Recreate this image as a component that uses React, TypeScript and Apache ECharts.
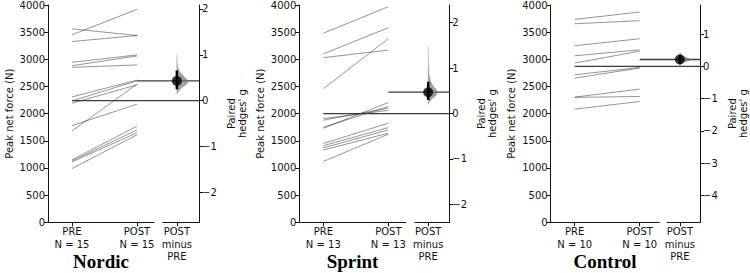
import React, { useEffect, useRef } from "react";
import * as echarts from "echarts";

// ---------- data ----------
const groups = ["Nordic", "Sprint", "Control"];
const groupN = [15, 13, 10];

const preNordic = [3451, 3562, 3327, 2945, 2883, 2852, 2309, 2235, 2192, 1780, 1680, 1150, 1130, 1110, 990];
const postNordic = [3920, 3438, 3438, 3081, 3062, 2896, 2618, 2605, 2531, 2174, 2543, 1770, 1700, 1650, 1610];

const preSprint = [3480, 3100, 3030, 2460, 1910, 1880, 1750, 1730, 1450, 1410, 1370, 1330, 1120];
const postSprint = [3969, 3582, 3170, 3379, 2060, 2101, 2131, 2205, 1825, 1744, 1701, 1640, 1622];

const preControl = [3735, 3655, 3250, 3065, 2931, 2715, 2654, 2304, 2300, 2083];
const postControl = [3871, 3711, 3379, 3175, 3150, 2850, 2840, 2452, 2315, 2223];

// paired Hedges' g and 95% CI
const hedgesG = [0.43, 0.47, 0.215];
const ciLow = [0.25, 0.3, 0.07];
const ciHigh = [0.66, 0.7, 0.36];

// bootstrap distribution outline: [g, half-width]
const violinNordic = [[1.0, 0], [0.85, 0.01], [0.72, 0.04], [0.62, 0.12], [0.52, 0.27], [0.45, 0.38], [0.4, 0.4], [0.34, 0.32], [0.27, 0.16], [0.2, 0.05], [0.14, 0]];
const violinSprint = [[1.47, 0], [1.1, 0.01], [0.85, 0.04], [0.7, 0.1], [0.6, 0.2], [0.52, 0.32], [0.46, 0.36], [0.4, 0.3], [0.33, 0.16], [0.26, 0.05], [0.2, 0]];
const violinControl = [[0.45, 0], [0.36, 0.05], [0.3, 0.2], [0.24, 0.4], [0.21, 0.46], [0.17, 0.35], [0.12, 0.12], [0.06, 0]];

const yTicksLeft = { min: 0, max: 4000, interval: 500 };
const xTickLabels = ["PRE", "POST"];
const effectLabel = "POST\nminus\nPRE";

// ---------- layout ----------
const gridLeft = [48, 299.3, 550.7];
const mainWidth = [106, 106.4, 108.6];
const effLeft = [163, 415, 667.3];
const rightX = [199, 449.3, 701];
const TOP = 5;
const HEIGHT = 217.3;
const PX_PER_UNIT = 65;
const X_MIN = -24 / PX_PER_UNIT;

const FONT = "DejaVu Sans";
const INK = "#111";

const mean = (a: number[]) => a.reduce((s, v) => s + v, 0) / a.length;
const fmtMinus = (v: number) => (v < 0 ? "\u2212" + String(-v) : String(v));

function buildOption() {
  const pres = [preNordic, preSprint, preControl];
  const posts = [postNordic, postSprint, postControl];
  const violins = [violinNordic, violinSprint, violinControl];

  const grid: any[] = [];
  const xAxis: any[] = [];
  const yAxis: any[] = [];
  const series: any[] = [];
  const title: any[] = [];

  groups.forEach((name, i) => {
    const pre = pres[i];
    const post = posts[i];
    const preM = mean(pre);
    const postM = mean(post);
    const k = (postM - preM) / hedgesG[i]; // N per unit of g
    const gMin = (yTicksLeft.min - preM) / k;
    const gMax = (yTicksLeft.max - preM) / k;
    const gTicks: number[] = [];
    for (let t = Math.ceil(gMin); t <= Math.floor(gMax); t++) gTicks.push(t);

    const fullW = rightX[i] - gridLeft[i];
    const mainMax = X_MIN + fullW / PX_PER_UNIT;
    const axMax = X_MIN + mainWidth[i] / PX_PER_UNIT;

    grid.push({ left: gridLeft[i], top: TOP, width: fullW, height: HEIGHT });
    grid.push({ left: gridLeft[i], top: TOP, width: mainWidth[i], height: HEIGHT });
    grid.push({ left: effLeft[i], top: TOP, width: rightX[i] - effLeft[i], height: HEIGHT });

    const gi = 3 * i;
    xAxis.push({ gridIndex: gi, type: "value", min: X_MIN, max: mainMax, show: false });
    yAxis.push({
      gridIndex: gi,
      type: "value",
      min: yTicksLeft.min,
      max: yTicksLeft.max,
      interval: yTicksLeft.interval,
      position: "left",
      name: "Peak net force (N)",
      nameLocation: "middle",
      nameGap: 34,
      nameTextStyle: { fontFamily: FONT, fontSize: 10, color: INK },
      axisLine: { show: true, onZero: false, lineStyle: { color: INK, width: 1 } },
      axisTick: { show: true, length: 4, lineStyle: { color: INK } },
      axisLabel: { fontFamily: FONT, fontSize: 10, color: INK, margin: 3, formatter: (v: number) => String(v) },
      splitLine: { show: false },
    });
    xAxis.push({
      gridIndex: gi + 1,
      type: "value",
      min: X_MIN,
      max: axMax,
      axisLine: { show: true, onZero: false, lineStyle: { color: INK, width: 1 } },
      axisTick: { show: true, length: 4, customValues: [0, 1], lineStyle: { color: INK } },
      axisLabel: {
        customValues: [0, 1],
        formatter: (v: number) => `${xTickLabels[v === 0 ? 0 : 1]}\nN = ${groupN[i]}`,
        fontFamily: FONT,
        fontSize: 10,
        lineHeight: 12.5,
        color: INK,
        margin: 3,
      },
      splitLine: { show: false },
    });
    yAxis.push({ gridIndex: gi + 1, type: "value", min: 0, max: 1, show: false });
    xAxis.push({
      gridIndex: gi + 2,
      type: "value",
      min: -0.5,
      max: 0.8,
      axisLine: { show: true, onZero: false, lineStyle: { color: INK, width: 1 } },
      axisTick: { show: true, length: 4, customValues: [0], lineStyle: { color: INK } },
      axisLabel: {
        customValues: [0],
        formatter: () => effectLabel,
        fontFamily: FONT,
        fontSize: 10,
        lineHeight: 12.5,
        color: INK,
        margin: 3,
      },
      splitLine: { show: false },
    });
    yAxis.push({
      gridIndex: gi + 2,
      type: "value",
      min: gMin,
      max: gMax,
      position: "right",
      name: "Paired\nhedges' g",
      nameLocation: "middle",
      nameRotate: 90,
      nameGap: 27,
      nameTextStyle: { fontFamily: FONT, fontSize: 10, color: INK, lineHeight: 11 },
      axisLine: { show: true, onZero: false, lineStyle: { color: INK, width: 1 } },
      axisTick: { show: true, length: 4, customValues: gTicks, lineStyle: { color: INK } },
      axisLabel: {
        customValues: gTicks,
        formatter: (v: number) => fmtMinus(Math.round(v)),
        fontFamily: FONT,
        fontSize: 10,
        color: INK,
        margin: 3,
      },
      splitLine: { show: false },
    });

    pre.forEach((p, j) => {
      series.push({
        type: "line",
        xAxisIndex: gi,
        yAxisIndex: gi,
        data: [[0, p], [1, post[j]]],
        symbol: "none",
        silent: true,
        lineStyle: { color: "rgba(0,0,0,0.42)", width: 1 },
        z: 2,
      });
    });
    series.push({
      type: "line",
      xAxisIndex: gi,
      yAxisIndex: gi,
      data: [[0, preM], [mainMax, preM]],
      symbol: "none",
      silent: true,
      lineStyle: { color: "#3a3a3a", width: 1.3 },
      z: 3,
    });
    series.push({
      type: "line",
      xAxisIndex: gi,
      yAxisIndex: gi,
      data: [[1, postM], [mainMax, postM]],
      symbol: "none",
      silent: true,
      lineStyle: { color: "#3a3a3a", width: 1.3 },
      z: 3,
    });
    const vio = violins[i];
    series.push({
      type: "custom",
      xAxisIndex: gi + 2,
      yAxisIndex: gi + 2,
      data: [[0, hedgesG[i]]],
      silent: true,
      z: 4,
      renderItem: (_params: any, api: any) => {
        const pts: number[][] = [];
        vio.forEach(([g, w]) => pts.push(api.coord([w, g])));
        for (let m = vio.length - 1; m >= 0; m--) pts.push(api.coord([0, vio[m][0]]));
        return {
          type: "polygon",
          shape: { points: pts },
          style: { fill: "rgba(120,120,120,0.7)", stroke: "rgba(120,120,120,0.45)", lineWidth: 0.5 },
        };
      },
    });
    series.push({
      type: "line",
      xAxisIndex: gi + 2,
      yAxisIndex: gi + 2,
      data: [[0, ciLow[i]], [0, ciHigh[i]]],
      symbol: "none",
      silent: true,
      lineStyle: { color: "#000", width: 2.5 },
      z: 5,
    });
    series.push({
      type: "scatter",
      xAxisIndex: gi + 2,
      yAxisIndex: gi + 2,
      data: [[0, hedgesG[i]]],
      symbol: "circle",
      symbolSize: 10,
      silent: true,
      itemStyle: { color: "#000" },
      z: 6,
    });

    title.push({
      text: name,
      left: gridLeft[i] + mainWidth[i] / 2,
      top: 252,
      textAlign: "center",
      padding: 0,
      textStyle: { fontFamily: "Liberation Serif", fontWeight: "bold", fontSize: 19, color: "#000" },
    });
  });

  return { animation: false, backgroundColor: "#fff", title, grid, xAxis, yAxis, series };
}

export default function App() {
  const ref = useRef<HTMLDivElement>(null);
  useEffect(() => {
    if (!ref.current) return;
    const chart = echarts.init(ref.current, undefined, { renderer: "svg" });
    chart.setOption(buildOption() as any);
    return () => chart.dispose();
  }, []);
  return (
    <div
      ref={ref}
      style={{ position: "fixed", left: 0, top: 0, width: 750, height: 273, background: "#fff" }}
    />
  );
}
